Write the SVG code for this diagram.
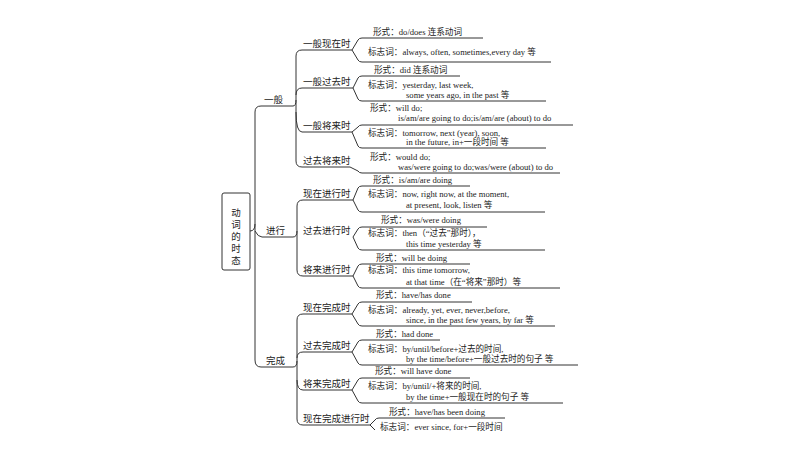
<svg xmlns="http://www.w3.org/2000/svg" width="800" height="450" viewBox="0 0 800 450">
<style>
text{font-family:"Liberation Serif","Noto Sans CJK SC",serif;fill:#222;font-size:8.6px}
.l{font-size:9.5px}
.c{fill:none;stroke:#333;stroke-width:1}
</style>
<rect width="800" height="450" fill="#fff"/>
<g id="connectors" class="c">
<path d="M250,231 Q255,231 255,224 V112 Q255,106 261,106 H293"/>
<path d="M255,224 V360 Q255,367 261,367 H293"/>
<path d="M255,231 Q258,237 262,237 H293"/>
<path d="M293,106 Q296,106 296,100 V56 Q296,50 302,50 H352"/>
<path d="M296,100 V161 Q296,167 302,167 H350"/>
<path d="M296,95 Q296,88 302,88 H353"/>
<path d="M296,112 Q296,132 302,132 H352"/>
<path d="M293,237 Q297,237 297,231 V206 Q297,200 303,200 H353"/>
<path d="M297,231 V270 Q297,276 303,276 H353"/>
<path d="M293,367 Q297,367 297,361 V320 Q297,314 303,314 H352"/>
<path d="M297,361 V419 Q297,425 303,425 H370"/>
<path d="M297,358 Q297,352 303,352 H352"/>
<path d="M297,380 Q297,390 303,390 H352"/>
<path d="M352,50 L358,40 Q359,38 362,38 H483 M352,50 L358,60 Q359,62 362,62 H551"/>
<path d="M353,88 L358,78 Q359,76 362,76 H460 M353,88 L358,99 Q359,101 362,101 H546"/>
<path d="M352,132 L358,127 Q359,125 362,125 H573 M352,132 L358,146 Q359,148 362,148 H546"/>
<path d="M350,167 L358,171 Q359,173 362,173 H560"/>
<path d="M353,200 L358,188 Q359,186 362,186 H470 M353,200 L358,210 Q359,212 362,212 H545"/>
<path d="M353,237 L358,229 Q359,227 362,227 H487 M353,237 L358,248 Q359,250 362,250 H545"/>
<path d="M353,276 L358,266 Q359,264 362,264 H470 M353,276 L358,286 Q359,288 362,288 H560"/>
<path d="M352,314 L358,304 Q359,302 362,302 H472 M352,314 L358,324 Q359,326 362,326 H555"/>
<path d="M352,352 L358,342 Q359,340 362,340 H440 M352,352 L358,363 Q359,365 362,365 H578"/>
<path d="M352,390 L358,380 Q359,378 362,378 H470 M352,390 L358,401 Q359,403 362,403 H563"/>
<path d="M370,425 L375,420 Q376,418 379,418 H505 M370,425 L375,430"/>
</g>
<g id="root"><rect x="222" y="193" width="28" height="77" rx="2" fill="#fff" stroke="#333"/>
<text class="l" x="236" y="216" text-anchor="middle">动</text><text class="l" x="236" y="228" text-anchor="middle">词</text><text class="l" x="236" y="240" text-anchor="middle">的</text><text class="l" x="236" y="252" text-anchor="middle">时</text><text class="l" x="236" y="264" text-anchor="middle">态</text></g>
<g id="n-yiban"><text class="l" x="264" y="103">一般</text></g>
<g id="n-jinxing"><text class="l" x="266" y="234">进行</text></g>
<g id="n-wancheng"><text class="l" x="266" y="364">完成</text></g>
<g id="n1"><text class="l" x="303" y="47">一般现在时</text><text x="373" y="35">形式：do/does  连系动词</text><text x="368" y="55">标志词：always, often, sometimes,every day  等</text></g>
<g id="n2"><text class="l" x="303" y="85">一般过去时</text><text x="374" y="73">形式：did  连系动词</text><text x="368" y="88">标志词：yesterday, last week,</text><text x="406" y="98">some years ago, in the past  等</text></g>
<g id="n3"><text class="l" x="303" y="129">一般将来时</text><text x="370" y="111">形式：will do;</text><text x="398" y="121">is/am/are going to do;is/am/are (about) to do</text><text x="368" y="136">标志词：tomorrow, next (year), soon,</text><text x="406" y="145">in the future, in+一段时间  等</text></g>
<g id="n4"><text class="l" x="303" y="164">过去将来时</text><text x="370" y="160">形式：would do;</text><text x="398" y="170">was/were going to do;was/were (about) to do</text></g>
<g id="n5"><text class="l" x="303" y="197">现在进行时</text><text x="373" y="183">形式：is/am/are doing</text><text x="368" y="197">标志词：now, right now, at the moment,</text><text x="406" y="208">at present, look, listen  等</text></g>
<g id="n6"><text class="l" x="303" y="234">过去进行时</text><text x="381" y="223">形式：was/were doing</text><text x="368" y="236">标志词：then（“过去”那时），</text><text x="406" y="247">this time yesterday  等</text></g>
<g id="n7"><text class="l" x="303" y="273">将来进行时</text><text x="376" y="261">形式：will be doing</text><text x="368" y="273">标志词：this time tomorrow,</text><text x="406" y="285">at that time（在“将来”那时）等</text></g>
<g id="n8"><text class="l" x="303" y="311">现在完成时</text><text x="376" y="298">形式：have/has done</text><text x="368" y="313">标志词：already, yet, ever, never,before,</text><text x="406" y="323">since, in the past few years, by far  等</text></g>
<g id="n9"><text class="l" x="303" y="349">过去完成时</text><text x="376" y="337">形式：had done</text><text x="368" y="352">标志词：by/until/before+过去的时间,</text><text x="406" y="362">by the time/before+一般过去时的句子  等</text></g>
<g id="n10"><text class="l" x="303" y="387">将来完成时</text><text x="375" y="374">形式：will have done</text><text x="368" y="389">标志词：by/until/+将来的时间,</text><text x="406" y="400">by the time+一般现在时的句子  等</text></g>
<g id="n11"><text class="l" x="303" y="422">现在完成进行时</text><text x="389" y="415">形式：have/has been doing</text><text x="380" y="430">标志词：ever since, for+一段时间</text></g>
</svg>
